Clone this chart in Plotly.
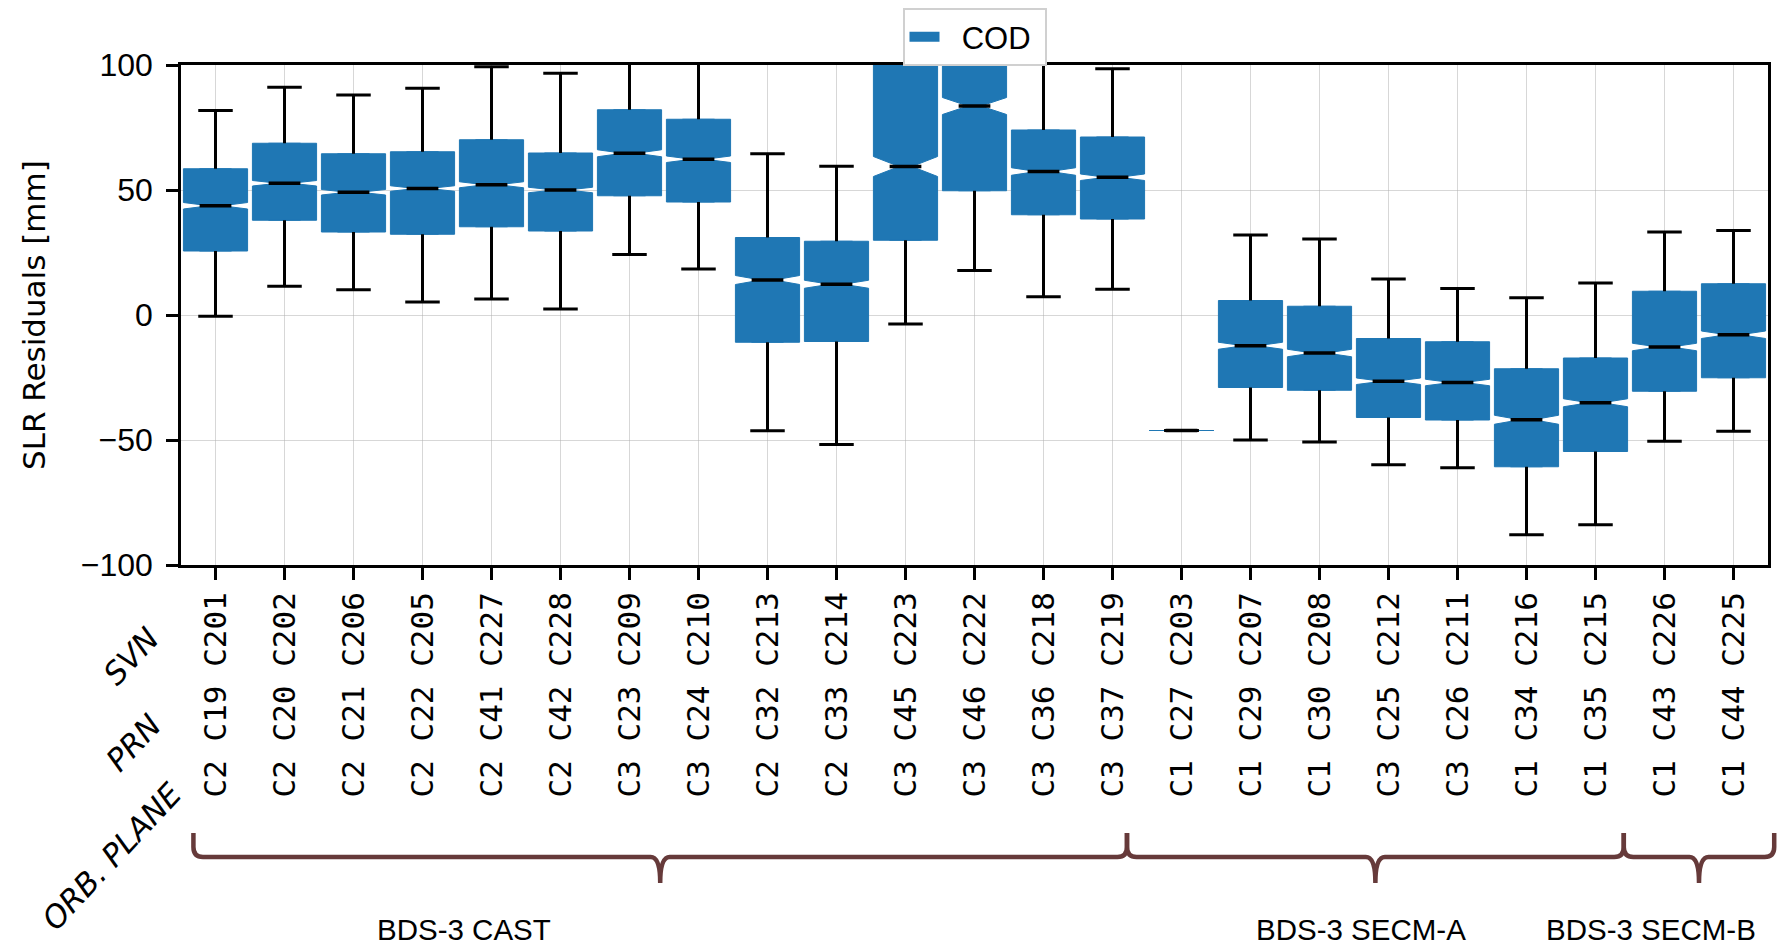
import plotly.graph_objects as go

# ---------------- data ----------------
orb_plane = ["C2", "C2", "C2", "C2", "C2", "C2", "C3", "C3", "C2", "C2", "C3", "C3", "C3", "C3",
             "C1", "C1", "C1", "C3", "C3", "C1", "C1", "C1", "C1"]
prn = ["C19", "C20", "C21", "C22", "C41", "C42", "C23", "C24", "C32", "C33", "C45", "C46", "C36", "C37",
       "C27", "C29", "C30", "C25", "C26", "C34", "C35", "C43", "C44"]
svn = ["C201", "C202", "C206", "C205", "C227", "C228", "C209", "C210", "C213", "C214", "C223", "C222", "C218", "C219",
       "C203", "C207", "C208", "C212", "C211", "C216", "C215", "C226", "C225"]

upper_whisker = [81.8, 91.1, 88.0, 90.7, 99.3, 96.7, 110.0, 108.0, 64.5, 59.5, 160.0, 160.0, 105.0, 98.5,
                 -46.2, 32.0, 30.4, 14.4, 10.6, 6.9, 12.8, 33.2, 33.8]
q3 = [58.5, 68.7, 64.5, 65.3, 70.1, 64.8, 82.1, 78.3, 31.0, 29.5, 115.0, 120.0, 74.0, 71.2,
      -46.2, 5.8, 3.5, -9.4, -10.7, -21.5, -17.2, 9.5, 12.5]
median = [43.7, 52.7, 49.1, 50.6, 52.1, 50.0, 64.7, 62.3, 14.0, 12.3, 59.4, 83.6, 57.4, 55.1,
          -46.2, -12.3, -15.2, -26.5, -27.0, -41.9, -35.1, -12.8, -7.9]
q1 = [25.6, 37.9, 33.2, 32.3, 35.3, 33.6, 47.7, 45.2, -10.9, -10.6, 29.9, 49.7, 40.1, 38.4,
      -46.2, -29.0, -30.1, -41.0, -42.0, -60.7, -54.6, -30.5, -25.1]
lower_whisker = [-0.5, 11.5, 10.1, 5.2, 6.4, 2.4, 24.2, 18.4, -46.3, -51.8, -3.6, 17.8, 7.3, 10.3,
                 -46.2, -50.0, -50.8, -59.9, -61.1, -87.9, -83.9, -50.5, -46.5]
notch = [1.3, 1.1, 1.1, 1.1, 1.2, 1.1, 1.4, 1.3, 1.8, 1.6, 4.0, 3.4, 1.5, 1.3,
         0.0, 1.4, 1.5, 1.3, 1.3, 1.8, 1.6, 1.5, 1.5]

groups = ["BDS-3 CAST", "BDS-3 SECM-A", "BDS-3 SECM-B"]
group_start = [-0.32, 13.21, 20.41]
group_end = [13.21, 20.41, 22.59]
group_label_x = [3.6, 16.6, 20.8]

row_labels = ["SVN", "PRN", "ORB. PLANE"]

# ---------------- style ----------------
BLUE = "#1f77b4"
BRACE = "#663a3a"
n = len(svn)
xs = list(range(n))
ticktext = [f"{a} {b} {c}" for a, b, c in zip(orb_plane, prn, svn)]

fig = go.Figure()

fig.add_trace(go.Box(
    x=xs, q1=q1, median=median, q3=q3,
    lowerfence=q1, upperfence=q3,
    notched=True, notchspan=notch, notchwidth=0.4,
    width=0.93, fillcolor=BLUE, line=dict(color=BLUE, width=1),
    boxpoints=False, name="COD", showlegend=False, hoverinfo="skip",
))

# whiskers, caps and medians
wx, wy = [], []
cap = 0.25
for i in xs:
    wx += [i, i, None, i, i, None]
    wy += [q3[i], upper_whisker[i], None, q1[i], lower_whisker[i], None]
    wx += [i - cap, i + cap, None, i - cap, i + cap, None]
    wy += [upper_whisker[i], upper_whisker[i], None, lower_whisker[i], lower_whisker[i], None]
fig.add_trace(go.Scatter(x=wx, y=wy, mode="lines", line=dict(color="black", width=3),
                         showlegend=False, hoverinfo="skip"))
mx, my = [], []
mh = 0.23
for i in xs:
    mx += [i - mh, i + mh, None]
    my += [median[i], median[i], None]
fig.add_trace(go.Scatter(x=mx, y=my, mode="lines", line=dict(color="black", width=3.5),
                         showlegend=False, hoverinfo="skip"))

# legend entry (wide filled patch like the reference)
fig.add_trace(go.Scatter(x=[None], y=[None], mode="lines", name="\u00a0\u00a0COD\u00a0",
                         line=dict(color=BLUE, width=10), showlegend=True, hoverinfo="skip"))

# ---------------- braces ----------------
xmin, xmax = -0.5, n - 0.5


def px(x):
    return (x - xmin) / (xmax - xmin)


ytop, yline, ytip = -0.536, -0.584, -0.636
rx = 0.006
ry = 0.02
shapes = []
for s, e in zip(group_start, group_end):
    x0, x1 = px(s), px(e)
    xm = (x0 + x1) / 2
    path = (f"M{x0},{ytop} L{x0},{yline + ry} Q{x0},{yline} {x0 + rx},{yline} "
            f"L{xm - rx},{yline} Q{xm},{yline} {xm},{ytip} "
            f"Q{xm},{yline} {xm + rx},{yline} L{x1 - rx},{yline} "
            f"Q{x1},{yline} {x1},{yline + ry} L{x1},{ytop}")
    shapes.append(dict(type="path", xref="paper", yref="paper", path=path,
                       line=dict(color=BRACE, width=4.5)))

annotations = []
for g, gx in zip(groups, group_label_x):
    annotations.append(dict(x=gx, y=-0.728, xref="x", yref="paper", text=g, showarrow=False,
                            font=dict(family="Liberation Sans, Arial", size=29.5, color="black"),
                            xanchor="center", yanchor="middle"))

row_pos = [(-0.0315, -0.182), (-0.0302, -0.356), (-0.0435, -0.582)]
for lab, (ax, ay) in zip(row_labels, row_pos):
    annotations.append(dict(x=ax, y=ay, xref="paper", yref="paper", text=lab, showarrow=False,
                            textangle=-47,
                            font=dict(family="DejaVu Sans", size=31, color="black", style="italic"),
                            xanchor="center", yanchor="middle"))

annotations.append(dict(x=-0.0926, y=0.5, xref="paper", yref="paper", text="SLR Residuals [mm]",
                        showarrow=False, textangle=-90,
                        font=dict(family="DejaVu Sans", size=31, color="black"),
                        xanchor="center", yanchor="middle"))

# the page has an 8 px body margin, so the figure is sized to fit the window
fig.update_layout(
    width=1777, height=941,
    margin=dict(l=173, r=17, t=57, b=384, autoexpand=False),
    paper_bgcolor="white", plot_bgcolor="white",
    font=dict(family="Liberation Sans, Arial", color="black"),
    shapes=shapes, annotations=annotations,
    legend=dict(x=0.5, xanchor="center", xref="paper", y=1.0, yanchor="top", yref="container",
                orientation="h", itemwidth=30,
                bordercolor="#d0d0d0", borderwidth=2, bgcolor="white",
                font=dict(family="Liberation Sans, Arial", size=31, color="black")),
)

fig.update_xaxes(range=[xmin, xmax], tickmode="array", tickvals=xs, ticktext=ticktext,
                 tickangle=-90, tickfont=dict(family="DejaVu Sans Mono", size=31, color="black"),
                 showline=True, mirror=True, linecolor="black", linewidth=2.5,
                 ticks="outside", ticklen=12, tickwidth=2.5, tickcolor="black",
                 showgrid=True, gridcolor="rgba(176,176,176,0.5)", gridwidth=1,
                 zeroline=False, ticklabelstandoff=0, automargin=False)
fig.update_yaxes(range=[-100, 100], tickmode="array", tickvals=[-100, -50, 0, 50, 100],
                 ticktext=["\u2212100", "\u221250", "0", "50", "100"],
                 tickfont=dict(family="Liberation Sans, Arial", size=32, color="black"),
                 showline=True, mirror=True, linecolor="black", linewidth=2.5,
                 ticks="outside", ticklen=12, tickwidth=2.5, tickcolor="black",
                 showgrid=True, gridcolor="rgba(176,176,176,0.5)", gridwidth=1,
                 zeroline=False, ticklabelstandoff=7, automargin=False)

fig.write_html("out.html")
